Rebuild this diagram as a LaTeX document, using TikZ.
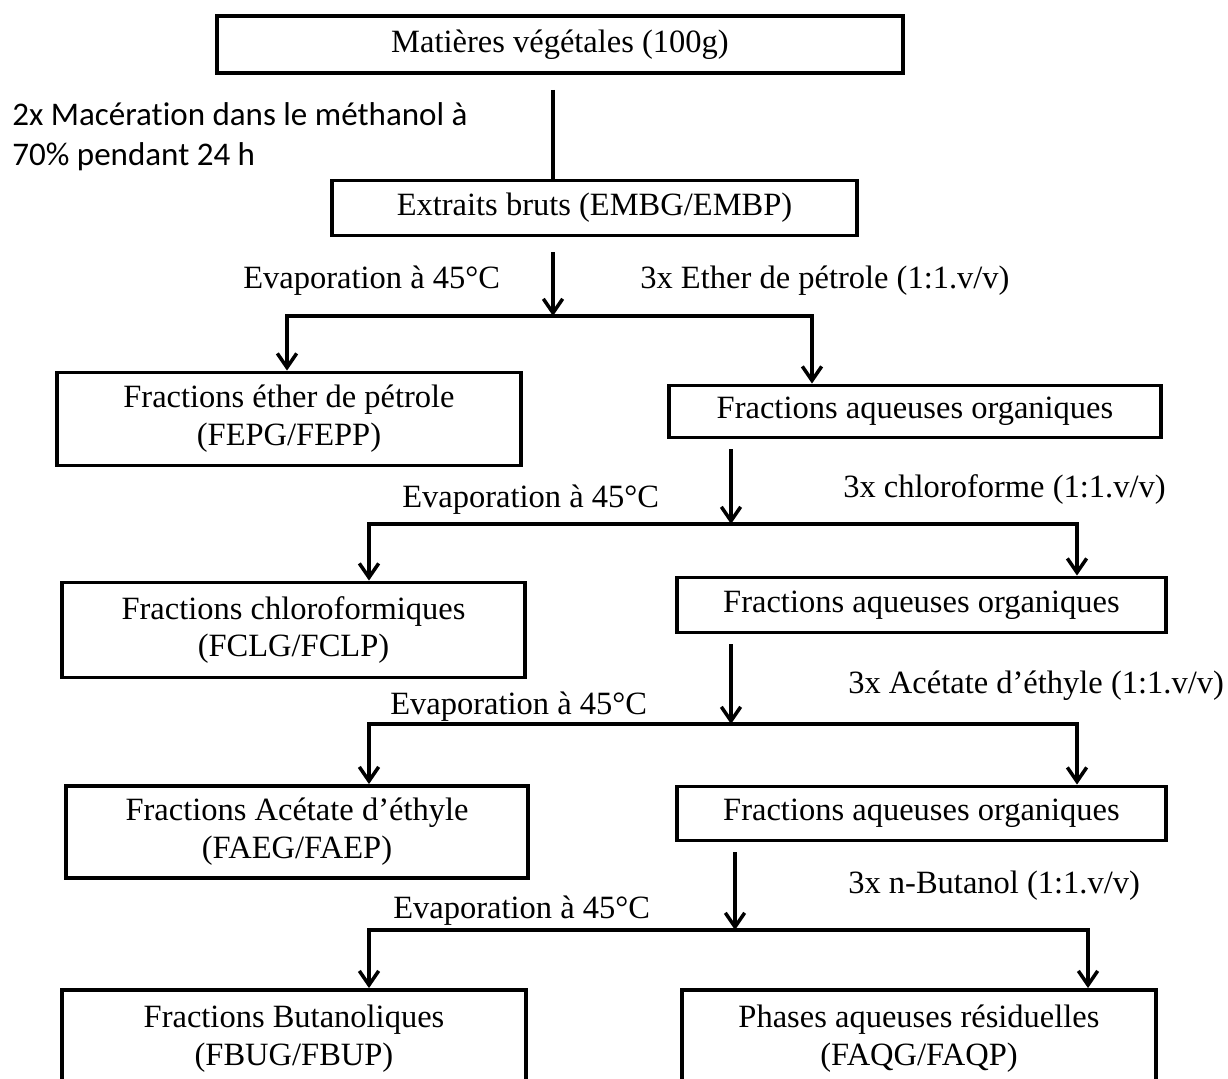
\documentclass[tikz,border=0pt]{standalone}
\usepackage{fontspec}
\setmainfont{Liberation Serif}
\newfontfamily\calibri[Ligatures=NoCommon]{Carlito}
\usetikzlibrary{arrows.meta}
\usetikzlibrary{positioning}
\usetikzlibrary{calc}

\tikzset{
  boite/.style={draw, line width=2.2pt, inner sep=0pt, align=center,
    font=\fontsize{18.5}{21.5}\selectfont},
  taille/.style 2 args={minimum width=#1*0.02cm, minimum height=#2*0.02cm},
  etiq/.style={inner sep=0pt, font=\fontsize{18.5}{22}\selectfont},
  trait/.style={line width=2pt},
  fleche/.style={line width=2pt, -{Straight Barb[length=8pt,width=11pt]}},
}

\begin{document}
\begin{tikzpicture}[x=0.02cm, y=-0.02cm]
  \useasboundingbox (0,0) rectangle (1228,1079);
  \clip (0,0) rectangle (1228,1079);

  % boites
  \node[boite, taille={686}{57}] (b_0) at (560,44.5) {Matières végétales (100g)};
  \node[boite, taille={525}{55}] (b_1) at (594.5,208) {Extraits bruts (EMBG/EMBP)};
  \node[boite, taille={464}{93}] (b_2) at (289,419) {Fractions éther de pétrole\\(FEPG/FEPP)};
  \node[boite, taille={492}{52}] (b_3) at (915,411.5) {Fractions aqueuses organiques};
  \node[boite, taille={463}{95}] (b_4) at (293.5,630) {Fractions chloroformiques\\(FCLG/FCLP)};
  \node[boite, taille={489}{55}] (b_5) at (921.5,605) {Fractions aqueuses organiques};
  \node[boite, taille={462}{92}] (b_6) at (297,832) {Fractions Acétate d’éthyle\\(FAEG/FAEP)};
  \node[boite, taille={489}{54}] (b_7) at (921.5,813.5) {Fractions aqueuses organiques};
  \node[boite, taille={464}{98}] (b_8) at (294,1039) {Fractions Butanoliques\\(FBUG/FBUP)};
  \node[boite, taille={474}{98}] (b_9) at (919,1039) {Phases aqueuses résiduelles\\(FAQG/FAQP)};

  % etiquettes
  \node[etiq, anchor=west, align=left, font=\calibri\fontsize{18.8}{22.7}\selectfont]
    (l_0) at (12,137) {2x Macération dans le méthanol à\\70\% pendant 24 h};
  \node[etiq, anchor=base west] (l_1) at (243,288) {Evaporation à 45°C};
  \node[etiq, anchor=base west] (r_1) at (640,288) {3x Ether de pétrole (1:1.v/v)};
  \node[etiq, anchor=base west] (l_2) at (402,507) {Evaporation à 45°C};
  \node[etiq, anchor=base west] (r_2) at (843,497) {3x chloroforme (1:1.v/v)};
  \node[etiq, anchor=base west] (l_3) at (390,714) {Evaporation à 45°C};
  \node[etiq, anchor=base west] (r_3) at (848,693) {3x Acétate d’éthyle (1:1.v/v)};
  \node[etiq, anchor=base west] (l_4) at (393,918) {Evaporation à 45°C};
  \node[etiq, anchor=base west] (r_4) at (848,893) {3x n-Butanol (1:1.v/v)};

  % jonctions
  \coordinate (j_0) at (553,0);
  \coordinate (j_1) at (553,316);
  \coordinate (g_1) at (287,316);
  \coordinate (d_1) at (812,316);
  \coordinate (j_2) at (731,524);
  \coordinate (g_2) at (369,524);
  \coordinate (d_2) at (1077,524);
  \coordinate (j_3) at (731,724);
  \coordinate (g_3) at (369,724);
  \coordinate (d_3) at (1077,724);
  \coordinate (j_4) at (735,930);
  \coordinate (g_4) at (369,930);
  \coordinate (d_4) at (1088,930);

  \draw[trait, shorten <=15*0.02cm] (b_0.south -| j_0) -- (b_1.north -| j_0);

  \draw[fleche, shorten <=15*0.02cm] (b_1.south -| j_1) -- (j_1);
  \draw[fleche] (j_1) -| (g_1 |- b_2.north);
  \draw[fleche] (j_1) -| (d_1 |- b_3.north);

  \draw[fleche, shorten <=10*0.02cm] (b_3.south -| j_2) -- (j_2);
  \draw[fleche] (j_2) -| (g_2 |- b_4.north);
  \draw[fleche] (j_2) -| (d_2 |- b_5.north);

  \draw[fleche, shorten <=10*0.02cm] (b_5.south -| j_3) -- (j_3);
  \draw[fleche] (j_3) -| (g_3 |- b_6.north);
  \draw[fleche] (j_3) -| (d_3 |- b_7.north);

  \draw[fleche, shorten <=10*0.02cm] (b_7.south -| j_4) -- (j_4);
  \draw[fleche] (j_4) -| (g_4 |- b_8.north);
  \draw[fleche] (j_4) -| (d_4 |- b_9.north);
\end{tikzpicture}
\end{document}
